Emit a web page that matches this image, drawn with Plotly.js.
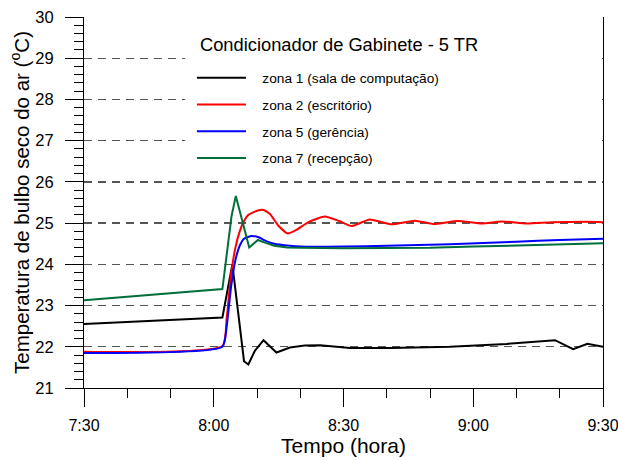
<!DOCTYPE html>
<html><head><meta charset="utf-8">
<script src="https://cdn.plot.ly/plotly-3.0.1.min.js"></script>
<style>html,body{margin:0;padding:0;background:#fff}#chart{width:618px;height:460px}</style>
</head><body><div id="chart"></div>
<script>
// time in minutes after 7:30
var tickVals = [0, 30, 60, 90, 120];
var tickText = ["7:30", "8:00", "8:30", "9:00", "9:30"];

var chartTitle = "Condicionador de Gabinete - 5 TR";
var names = ["zona 1 (sala de computação)", "zona 2 (escritório)", "zona 5 (gerência)", "zona 7 (recepção)"];

var t1 = [0, 32, 34.3, 37, 38, 39.5, 41.5, 44.5, 47.6, 51, 54.6, 61.5, 70.8, 84.6, 97.7, 108.9, 113.1, 116.4, 120];
var z1 = [22.55, 22.71, 24.0, 21.65, 21.57, 21.9, 22.16, 21.86, 21.98, 22.03, 22.04, 21.97, 21.97, 22.0, 22.07, 22.16, 21.94, 22.07, 22.0];

var t2 = [0, 32, 33, 34, 35, 36, 37, 38, 40, 41.5, 43, 45, 47.1, 49, 52, 55.7, 59, 61.9, 66.1, 71.1, 76.5, 80.8, 86.5, 92, 96.6, 102.4, 108, 116, 120];
var z2 = [21.88, 22.02, 22.7, 23.75, 24.4, 24.8, 25.05, 25.2, 25.3, 25.32, 25.22, 24.93, 24.75, 24.83, 25.03, 25.16, 25.05, 24.93, 25.09, 24.97, 25.06, 24.98, 25.05, 24.99, 25.04, 24.99, 25.02, 25.03, 25.02];

var t5 = [0, 32, 33, 34, 35, 36, 37, 38.8, 40.5, 42, 44, 47.6, 50, 60, 70, 84.6, 100, 110, 120];
var z5 = [21.85, 22.0, 22.5, 23.45, 24.1, 24.45, 24.62, 24.69, 24.65, 24.57, 24.5, 24.45, 24.43, 24.43, 24.45, 24.49, 24.55, 24.59, 24.62];

var t7 = [0, 32, 34.1, 35.1, 38.2, 40.2, 42, 44, 47, 50, 60, 70, 80, 90, 100, 110, 120];
var z7 = [23.13, 23.40, 25.16, 25.66, 24.41, 24.59, 24.52, 24.45, 24.41, 24.40, 24.39, 24.39, 24.40, 24.43, 24.46, 24.49, 24.51];

var colors = ["#000000", "#ff0000", "#0000ff", "#006f3c"];
var xs = [t1, t2, t5, t7], ys = [z1, z2, z5, z7];
var shapes = ["linear", "spline", "spline", "linear"];
var pad = "\u00a0\u00a0\u00a0";

var data = xs.map(function (x, i) {
  return {
    x: x, y: ys[i], type: "scatter", mode: "lines", name: pad + names[i],
    legendgroup: "g" + i,
    line: { color: colors[i], width: 2, shape: shapes[i], smoothing: 0.5 }
  };
});

var font = "Liberation Sans, Arial, sans-serif";
var layout = {
  width: 618, height: 460,
  margin: { l: 84, r: 15, t: 17, b: 72 },
  paper_bgcolor: "#fff", plot_bgcolor: "#fff",
  font: { family: font, color: "#000", size: 16 },
  showlegend: true,
  legend: {
    x: 0.208, y: 0.878, xanchor: "left", yanchor: "top",
    bgcolor: "rgba(0,0,0,0)", borderwidth: 0,
    font: { family: font, size: 13.7, color: "#000" },
    tracegroupgap: 6, itemwidth: 49
  },
  shapes: [{
    type: "rect", layer: "above", xref: "paper", yref: "y",
    x0: 0.195, x1: 0.998, y0: 26.2, y1: 29.8,
    fillcolor: "#fff", line: { width: 0 }
  }],
  annotations: [{
    text: chartTitle, xref: "paper", yref: "paper",
    x: 0.22, y: 0.925, xanchor: "left", yanchor: "middle", showarrow: false,
    font: { family: font, size: 18.3, color: "#000" }
  }],
  xaxis: {
    range: [0, 120], tickvals: tickVals, ticktext: tickText,
    ticks: "outside", ticklen: 18, tickwidth: 1, tickcolor: "#000",
    ticklabelstandoff: 5, ticklabeloverflow: "allow",
    showline: true, linecolor: "#000", linewidth: 1, mirror: false,
    showgrid: false, zeroline: false,
    tickfont: { family: font, size: 16 },
    minor: { dtick: 10, tick0: 0, ticks: "outside", ticklen: 9, tickcolor: "#000", showgrid: false },
    title: { text: "Tempo (hora)", font: { family: font, size: 21 }, standoff: 4 }
  },
  yaxis: {
    range: [21, 30], dtick: 1, tick0: 21,
    ticks: "outside", ticklen: 18, tickwidth: 1, tickcolor: "#000",
    ticklabelstandoff: 8, ticklabeloverflow: "allow",
    showline: true, linecolor: "#000", linewidth: 1, mirror: true,
    showgrid: true, gridcolor: "#555", gridwidth: 1.3, griddash: "8px,6px",
    zeroline: false,
    tickfont: { family: font, size: 16.5 },
    minor: { dtick: 0.2, tick0: 21, ticks: "outside", ticklen: 9, tickcolor: "#000", showgrid: false },
    title: { text: "Temperatura de bulbo seco do ar (<sup>o</sup>C)", font: { family: font, size: 20.5 }, standoff: 0 }
  }
};

Plotly.newPlot("chart", data, layout, { displayModeBar: false, staticPlot: true });
</script>
</body></html>
